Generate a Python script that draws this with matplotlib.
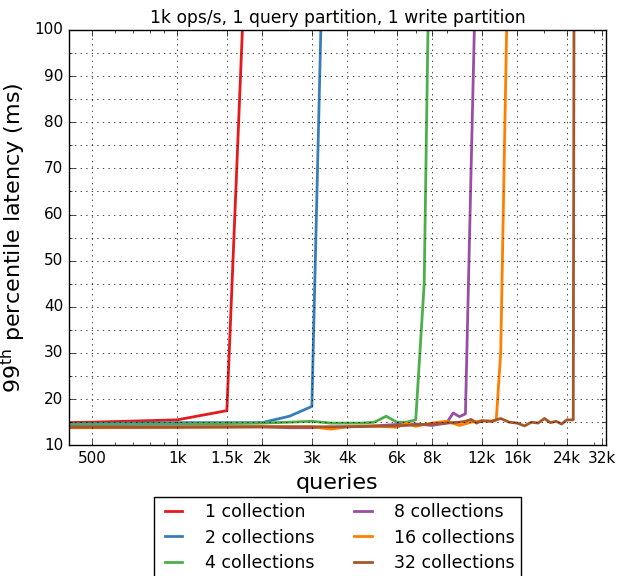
import matplotlib
matplotlib.use("Agg")
import matplotlib.pyplot as plt
from matplotlib.ticker import FixedLocator, FixedFormatter, MultipleLocator, NullFormatter

plt.style.use('classic')
plt.rcParams['mathtext.fontset'] = 'dejavusans'

# data (queries -> 99th percentile latency ms)
x1 = [400, 500, 1000, 1500, 2000]
y1 = [14.9, 15.0, 15.5, 17.5, 205]
x2 = [400, 500, 1000, 1500, 2000, 2500, 3000, 3500]
y2 = [14.6, 14.7, 14.9, 14.9, 14.9, 16.3, 18.4, 190]
x4 = [400, 500, 1000, 1500, 2000, 2500, 3000, 3500, 4000, 4500, 5000, 5500, 6000, 6500, 7000, 7500, 8000]
y4 = [14.5, 14.5, 14.6, 14.7, 14.8, 15.0, 15.2, 14.8, 14.8, 14.8, 15.0, 16.3, 15.0, 15.0, 15.5, 45, 160]
x8 = [400, 500, 1000, 2000, 2500, 3000, 4000, 5000, 6000, 7000, 8000, 9000, 9500, 10000, 10500, 11300, 12000]
y8 = [14.0, 14.0, 14.0, 14.0, 13.8, 13.8, 14.0, 14.2, 14.5, 14.6, 14.3, 14.8, 17.0, 16.2, 16.8, 101, 400]
x16 = [400, 500, 1000, 2000, 3000, 3500, 4000, 5000, 6000, 6500, 7000, 7500, 8000, 9000, 10000, 11000, 12000, 13000, 13500, 14000, 15000]
y16 = [13.8, 13.8, 13.9, 14.0, 14.0, 13.5, 14.0, 14.2, 13.9, 14.8, 14.1, 14.5, 14.8, 15.2, 14.3, 15.0, 15.3, 15.2, 15.5, 30, 130]
x32 = [400, 1000, 2000, 4000, 6000, 8000, 9000, 10000, 10500, 11000, 11500, 12000, 13000, 14000, 15000, 16000, 17000, 18000,
       19000, 20000, 21000, 22000, 23000, 24000, 25300, 25800]
y32 = [13.9, 13.9, 14.0, 14.0, 14.2, 14.6, 14.8, 15.0, 15.2, 15.6, 14.8, 15.3, 15.2, 15.8, 15.0, 14.8, 14.2, 15.0,
       14.8, 15.8, 14.9, 15.2, 14.6, 15.5, 15.5, 300]

series = [(x1, y1, '1 collection', '#e41a1c'),
          (x2, y2, '2 collections', '#377eb8'),
          (x4, y4, '4 collections', '#4daf4a'),
          (x8, y8, '8 collections', '#984ea3'),
          (x16, y16, '16 collections', '#ff7f00'),
          (x32, y32, '32 collections', '#a65628')]

xticks = [500, 1000, 1500, 2000, 3000, 4000, 6000, 8000, 12000, 16000, 24000, 32000]
xlabels = ['500', '1k', '1.5k', '2k', '3k', '4k', '6k', '8k', '12k', '16k', '24k', '32k']

fig = plt.figure(figsize=(6.22, 5.76), dpi=100)
fig.patch.set_facecolor('white')
ax = fig.add_axes([0.111, 0.227, 0.863, 0.721])

for xs, ys, lab, col in series:
    ax.plot(xs, ys, color=col, lw=2, label=lab)

ax.set_xscale('log', base=2)
ax.set_xlim(414, 33000)
ax.set_ylim(10, 100)
ax.xaxis.set_major_locator(FixedLocator(xticks))
ax.xaxis.set_major_formatter(FixedFormatter(xlabels))
ax.xaxis.set_minor_locator(FixedLocator([600, 700, 800, 900, 5000, 7000, 9000, 20000, 30000]))
ax.xaxis.set_minor_formatter(NullFormatter())
ax.yaxis.set_major_locator(MultipleLocator(10))
ax.yaxis.set_minor_locator(MultipleLocator(5))
ax.tick_params(labelsize=11)
ax.grid(True, which='major', axis='x', color='k', linestyle=':')
ax.grid(True, which='both', axis='y', color='k', linestyle=':')

ax.set_title('1k ops/s, 1 query partition, 1 write partition', fontsize=12.3)
ax.set_xlabel('queries', fontsize=16)
ax.set_ylabel(r'99$^{\mathrm{th}}$ percentile latency (ms)', fontsize=16)

ax.legend(loc='upper center', bbox_to_anchor=(0.5, -0.125), ncol=2, fontsize=12.5,
          fancybox=False, borderaxespad=0, borderpad=0.35, labelspacing=0.42,
          handlelength=1.6, handletextpad=1.0, columnspacing=2.0)

fig.savefig('out.png', dpi=100, facecolor='white')
